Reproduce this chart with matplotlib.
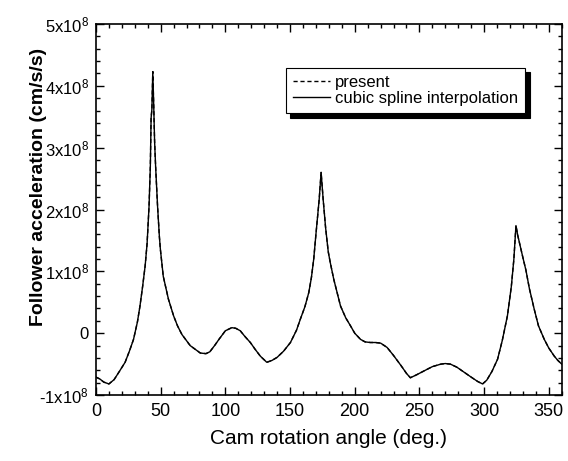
import numpy as np
import matplotlib
matplotlib.use("Agg")
import matplotlib.pyplot as plt

plt.rcParams['font.family'] = ['Liberation Sans', 'DejaVu Sans']
plt.rcParams['mathtext.fontset'] = 'custom'
plt.rcParams['mathtext.rm'] = 'Liberation Sans'
plt.rcParams['mathtext.it'] = 'Liberation Sans'

# cam angle (deg) and follower acceleration (x1e8 cm/s/s)
angle = [0, 3, 6, 10, 14, 18, 22.5, 26, 29, 32, 34, 36, 38, 39.5, 41, 42, 42.6,
         43.2, 43.9, 44.6, 45.3, 46.1, 47.6, 49, 49.8, 52, 56, 60, 63, 66.4,
         72.8, 80.6, 85, 88, 92, 95, 100, 105, 108, 111.5, 115, 119.3, 123, 127,
         132, 136, 140, 145, 150.3, 155, 158, 161.5, 164.5, 166.5, 168.3, 170,
         172.5, 174, 175.6, 177.5, 179.5, 181, 183.8, 189, 193, 196.7, 200,
         204.5, 208, 212, 216, 220, 225, 230, 236, 240, 243, 248, 253.5, 260,
         266.5, 270, 274, 279, 284.5, 290, 295, 298.8, 302, 306, 310.4, 314,
         318, 321, 323, 324.6, 326, 328, 330, 332.3, 335, 338.7, 342, 346.5,
         350, 354.2, 357, 360]
spline_acc = [-0.71, -0.74, -0.79, -0.82, -0.75, -0.62, -0.47, -0.28, -0.10,
              0.18, 0.44, 0.75, 1.09, 1.45, 2.05, 2.69, 3.48, 3.62, 4.23, 3.70,
              3.10, 2.69, 2.05, 1.56, 1.35, 0.92, 0.55, 0.28, 0.12, -0.02, -0.20,
              -0.32, -0.33, -0.30, -0.19, -0.10, 0.04, 0.09, 0.08, 0.04, -0.05,
              -0.15, -0.26, -0.37, -0.47, -0.44, -0.39, -0.29, -0.15, 0.05, 0.23,
              0.43, 0.66, 0.90, 1.20, 1.60, 2.16, 2.60, 2.16, 1.70, 1.32, 1.15,
              0.87, 0.44, 0.25, 0.12, 0.0, -0.10, -0.14, -0.15, -0.15, -0.16,
              -0.23, -0.36, -0.53, -0.65, -0.72, -0.67, -0.61, -0.54, -0.50,
              -0.49, -0.50, -0.55, -0.63, -0.71, -0.78, -0.82, -0.76, -0.62,
              -0.42, -0.12, 0.28, 0.75, 1.20, 1.74, 1.58, 1.40, 1.22, 1.02, 0.72,
              0.39, 0.12, -0.10, -0.24, -0.37, -0.44, -0.50]
present_acc = list(spline_acc)

yticks = [-1, 0, 1, 2, 3, 4, 5]
ytick_labels = ['-1x10$^8$', '0', '1x10$^8$', '2x10$^8$', '3x10$^8$',
                '4x10$^8$', '5x10$^8$']
xticks = [0, 50, 100, 150, 200, 250, 300, 350]

fig = plt.figure(figsize=(5.68, 4.61), dpi=100)
ax = fig.add_axes([0.169, 0.143, 0.820, 0.805])

ax.plot(angle, present_acc, color='black', lw=1.0, ls=(0, (3, 2)), label='present')
ax.plot(angle, spline_acc, color='black', lw=1.0, label='cubic spline interpolation')

ax.set_xlim(0, 360)
ax.set_ylim(-1, 5)
ax.set_xticks(xticks)
ax.set_xticks(np.arange(0, 361, 10), minor=True)
ax.set_yticks(yticks)
ax.set_yticklabels(ytick_labels)
ax.set_yticks(np.arange(-1, 5.01, 0.2), minor=True)
ax.tick_params(which='both', direction='in', top=True, right=True, width=1.0)
ax.tick_params(which='major', length=6)
ax.tick_params(which='minor', length=3)
ax.tick_params(axis='x', labelsize=13, pad=6)
ax.tick_params(axis='y', labelsize=12, pad=5)
for s in ax.spines.values():
    s.set_linewidth(1.2)

ax.set_xlabel('Cam rotation angle (deg.)', fontsize=15, labelpad=6)
ax.set_ylabel('Follower acceleration (cm/s/s)', fontsize=14, fontweight='bold')
ax.yaxis.set_label_coords(-0.105, 0.56)

leg = ax.legend(loc='upper right', bbox_to_anchor=(0.94, 0.905), fontsize=12,
                frameon=True, fancybox=False, edgecolor='black', handlelength=2.2,
                handletextpad=0.3, labelspacing=0.05, borderpad=0.45,
                shadow={'color': 'black', 'alpha': 1.0, 'ox': 3, 'oy': -3})
leg.get_frame().set_linewidth(0.8)

fig.savefig('out.png', dpi=100)
